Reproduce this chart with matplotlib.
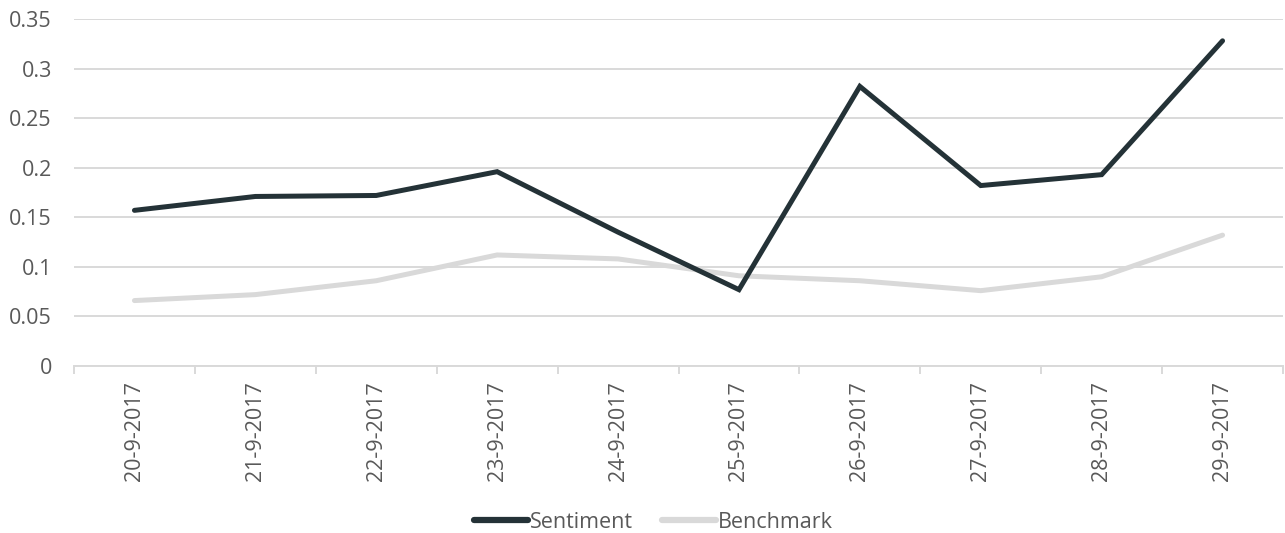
import numpy as np
import matplotlib.pyplot as plt

dates = ["20-9-2017", "21-9-2017", "22-9-2017", "23-9-2017", "24-9-2017",
         "25-9-2017", "26-9-2017", "27-9-2017", "28-9-2017", "29-9-2017"]
sentiment = [0.157, 0.171, 0.172, 0.196, 0.135, 0.077, 0.282, 0.182, 0.193, 0.328]
benchmark = [0.066, 0.072, 0.086, 0.112, 0.108, 0.091, 0.086, 0.076, 0.090, 0.132]

plt.rcParams['font.family'] = ['Open Sans', 'DejaVu Sans']
text_color = '#595959'
grid_color = '#d9d9d9'
fs = 15.5

fig = plt.figure(figsize=(12.85, 5.33), dpi=100)
# plot area: x 74..1283 px, y 19..366 px
ax = fig.add_axes([74 / 1285, 1 - 366 / 533, (1283 - 74) / 1285, (366 - 19) / 533])

x = np.arange(len(dates))
ax.plot(x, sentiment, color='#243237', lw=3.6, solid_capstyle='round',
        solid_joinstyle='miter', label='Sentiment', zorder=3)
ax.plot(x, benchmark, color='#d9d9d9', lw=3.6, solid_capstyle='round',
        solid_joinstyle='miter', label='Benchmark', zorder=2)

ax.set_xlim(-0.5, len(dates) - 0.5)
ax.set_ylim(0, 0.35)
ax.set_yticks(np.arange(0, 0.36, 0.05))
ax.set_yticklabels(['0', '0.05', '0.1', '0.15', '0.2', '0.25', '0.3', '0.35'])
ax.yaxis.grid(True, color=grid_color, lw=1.4)
ax.set_axisbelow(True)

ax.set_xticks(x)
ax.set_xticklabels(dates, rotation=90)
ax.set_xticks(np.arange(-0.5, len(dates), 1), minor=True)
ax.tick_params(axis='x', which='major', length=0, pad=11, labelsize=fs, labelcolor=text_color)
ax.tick_params(axis='x', which='minor', length=6, color=grid_color, width=1.4)
ax.tick_params(axis='y', length=0, pad=16, labelsize=fs, labelcolor=text_color)

for side in ['top', 'right', 'left']:
    ax.spines[side].set_visible(False)
ax.spines['bottom'].set_color(grid_color)
ax.spines['bottom'].set_linewidth(1.4)

leg = fig.legend(loc='center', bbox_to_anchor=(653.5 / 1285, 1 - 522 / 533), ncol=2,
                 frameon=False, fontsize=fs, handlelength=2.5, handletextpad=0.1,
                 columnspacing=1.35, borderpad=0)
for t in leg.get_texts():
    t.set_color(text_color)
for h in leg.get_lines():
    h.set_linewidth(4.5)

fig.savefig('out.png', dpi=100)
